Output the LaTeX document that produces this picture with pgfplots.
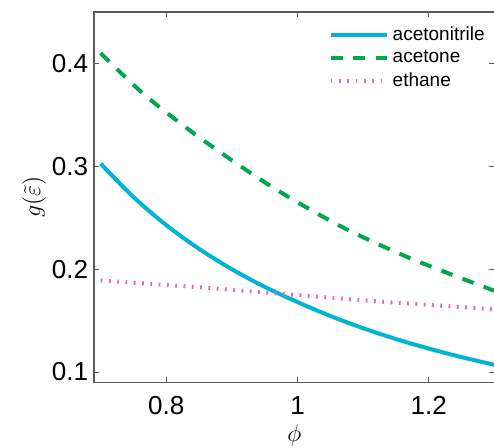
\documentclass[border=0pt]{standalone}
\usepackage{fontspec}
\setmainfont{Liberation Sans}
\usepackage{pgfplots}
\pgfplotsset{compat=1.18}
\definecolor{ccyan}{RGB}{0,180,210}
\definecolor{cgreen}{RGB}{0,166,80}
\definecolor{cpink}{RGB}{228,105,180}
\definecolor{caxis}{RGB}{90,90,90}
\begin{document}
\begin{tikzpicture}
\begin{axis}[
  at={(0,0)}, anchor=south west,
  scale only axis,
  width=200pt, height=185pt,
  xmin=0.69, xmax=1.3, ymin=0.09, ymax=0.45,
  xtick={0.8,1,1.2}, ytick={0.1,0.2,0.3,0.4},
  /pgf/number format/assume math mode=true,
  /pgf/number format/fixed,
  tick label style={font=\fontsize{13}{15}\selectfont, text=black},
  xticklabel style={yshift=-3.5pt},
  yticklabel style={xshift=0.5pt},
  tick align=inside, major tick length=2.5pt,
  axis line style={caxis, line width=0.6pt},
  every tick/.style={caxis, line width=0.5pt},
  xlabel={$\phi$}, ylabel={$g(\tilde{\varepsilon})$},
  label style={font=\fontsize{13}{15}\selectfont},
  xlabel style={yshift=2pt},
  ylabel style={yshift=-4pt},
  legend style={draw=none, fill=none, inner sep=0pt, at={(0.585,0.972)}, anchor=north west,
    font=\fontsize{9.5}{11}\selectfont, row sep=-0.5pt},
  legend cell align=left,
  legend image code/.code={\draw[#1] (0pt,0pt) -- (28pt,0pt);},
]
\addplot[ccyan, line width=2pt, smooth] coordinates {
(0.70,0.3026) (0.75,0.2701) (0.80,0.2428) (0.85,0.2197) (0.90,0.1999) (0.95,0.1828)
(1.00,0.1680) (1.05,0.1545) (1.10,0.1426) (1.15,0.1321) (1.20,0.1228) (1.25,0.1145) (1.30,0.1070)};
\addlegendentry{acetonitrile}
\addplot[cgreen, line width=2pt, smooth, dash pattern=on 6pt off 5.3pt] coordinates {
(0.700,0.410) (0.766,0.370) (0.842,0.332) (0.918,0.298) (0.984,0.271) (1.074,0.239) (1.176,0.2095) (1.300,0.179)};
\addlegendentry{acetone}
\addplot[cpink, line width=2pt, smooth, dash pattern=on 0.9pt off 3.25pt] coordinates {
(0.700,0.189) (0.842,0.1828) (0.927,0.1785) (0.984,0.1757) (1.116,0.169) (1.300,0.161)};
\addlegendentry{ethane}
\end{axis}
\pgfresetboundingbox
\useasboundingbox (-47pt,-32.5pt) rectangle (199.8pt,191pt);
\end{tikzpicture}
\end{document}
